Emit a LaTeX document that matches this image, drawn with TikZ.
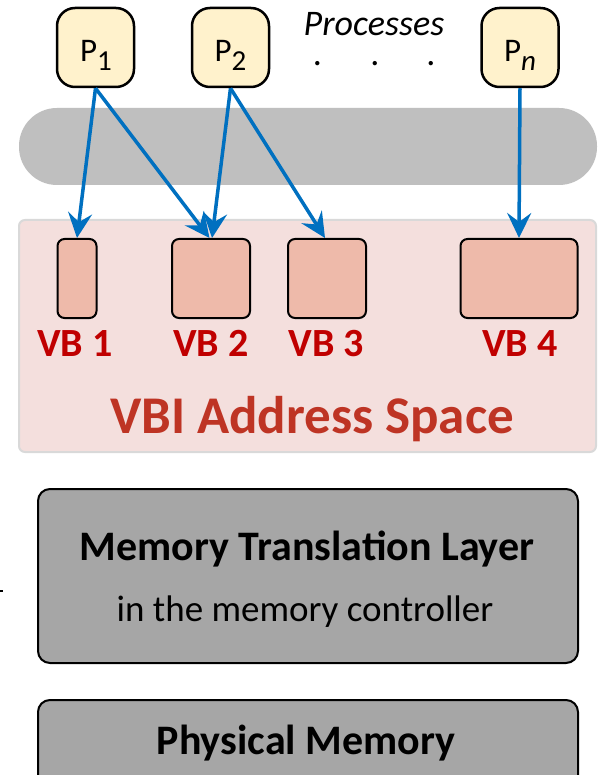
\documentclass[tikz,border=0pt]{standalone}
\usepackage{fontspec}
\setmainfont{Carlito}
\usetikzlibrary{arrows.meta}
\definecolor{procfill}{HTML}{FFF2CC}
\definecolor{pillgray}{HTML}{BFBFBF}
\definecolor{vbibg}{HTML}{F4DFDD}
\definecolor{vbiedge}{HTML}{D9D9D9}
\definecolor{vbfill}{HTML}{EEBAAA}
\definecolor{vblabel}{HTML}{C00000}
\definecolor{vbititle}{HTML}{BE3424}
\definecolor{layergray}{HTML}{A6A6A6}
\definecolor{arrblue}{HTML}{0070C0}
\tikzset{
  procbox/.style={draw=black, line width=2.5pt, fill=procfill, rounded corners=18pt,
    minimum width=77pt, minimum height=79pt, inner sep=0pt},
  proctext/.style={anchor=base, inner sep=0pt, font=\fontsize{33}{35}\selectfont},
  vbbox/.style={draw=black, line width=2pt, fill=vbfill, rounded corners=7pt, inner sep=0pt,
    minimum height=79pt},
  vbtext/.style={anchor=base, text=vblabel, font=\bfseries\fontsize{40}{42}\selectfont, inner sep=0pt},
  layer/.style={draw=black, line width=2pt, fill=layergray, rounded corners=12pt, inner sep=0pt},
  layertext/.style={anchor=base, inner sep=0pt},
  arr/.style={draw=arrblue, line width=3.5pt, -{Stealth[length=25pt,width=24pt,inset=9pt]}},
}
\newcommand{\psub}[1]{\raisebox{-8.5pt}{\fontsize{29}{31}\selectfont #1}}
\begin{document}
\begin{tikzpicture}[x=1pt,y=-1pt]
\clip (0,0) rectangle (598,775);
\fill[white] (0,0) rectangle (598,775);
% small mark at the left edge
\fill[black] (0,590) rectangle (2.7,592.3);
% address space bar (pill)
\fill[pillgray, rounded corners=38pt] (19,108) rectangle (597,185);
% VBI address space
\draw[vbiedge, fill=vbibg, line width=2pt, rounded corners=6pt] (19,220) rectangle (596,452);
% processes
\node[procbox] (p1) at (95.5,47.5) {};
\node[procbox] (p2) at (230.5,47.5) {};
\node[procbox] (pn) at (520,47.5) {};
\node[proctext] (p1t) at (96,62) {P\psub{1}};
\node[proctext] (p2t) at (230.5,62) {P\psub{2}};
\node[proctext] (pnt) at (520,62) {P\psub{\itshape n}};
\node[anchor=base, font=\itshape\fontsize{36}{38}\selectfont, inner sep=0pt] (proc) at (374,36) {Processes};
\node[anchor=base, font=\fontsize{36}{38}\selectfont, inner sep=0pt] (d1) at (317.5,66) {.};
\node[anchor=base, font=\fontsize{36}{38}\selectfont, inner sep=0pt] (d2) at (375,66) {.};
\node[anchor=base, font=\fontsize{36}{38}\selectfont, inner sep=0pt] (d3) at (431,66) {.};
% virtual blocks
\node[vbbox, minimum width=39pt] (vb1) at (77,278.5) {};
\node[vbbox, minimum width=78pt] (vb2) at (211,278.5) {};
\node[vbbox, minimum width=78pt] (vb3) at (327,278.5) {};
\node[vbbox, minimum width=117pt] (vb4) at (519,278.5) {};
\node[vbtext] (l1) at (75,356) {VB 1};
\node[vbtext] (l2) at (211,356) {VB 2};
\node[vbtext] (l3) at (326.5,356) {VB 3};
\node[vbtext] (l4) at (520,356) {VB 4};
\node[anchor=base, text=vbititle, font=\bfseries\fontsize{53}{55}\selectfont, inner sep=0pt] (vbi) at (312,433) {VBI Address Space};
% layers
\node[layer, minimum width=540pt, minimum height=174pt] (mtl) at (308,576) {};
\node[layertext, font=\bfseries\fontsize{42}{44}\selectfont] (mtlt) at (307,560) {Memory Translation Layer};
\node[layertext, font=\fontsize{37}{39}\selectfont] (mtls) at (305,621.7) {in the memory controller};
\node[layer, minimum width=540pt, minimum height=110pt] (pm) at (308,755) {};
\node[layertext, font=\bfseries\fontsize{42}{44}\selectfont] (pmt) at (306,754) {Physical Memory};
% arrows
\draw[arr] (p1.south) -- (vb1.north);
\draw[arr] (p1.south) -- ([xshift=-1.5pt]vb2.north);
\draw[arr] (p2.south) -- ([xshift=1pt]vb2.north);
\draw[arr] (p2.south) -- ([xshift=-2pt]vb3.north);
\draw[arr] (pn.south) -- (vb4.north);
\end{tikzpicture}
\end{document}
